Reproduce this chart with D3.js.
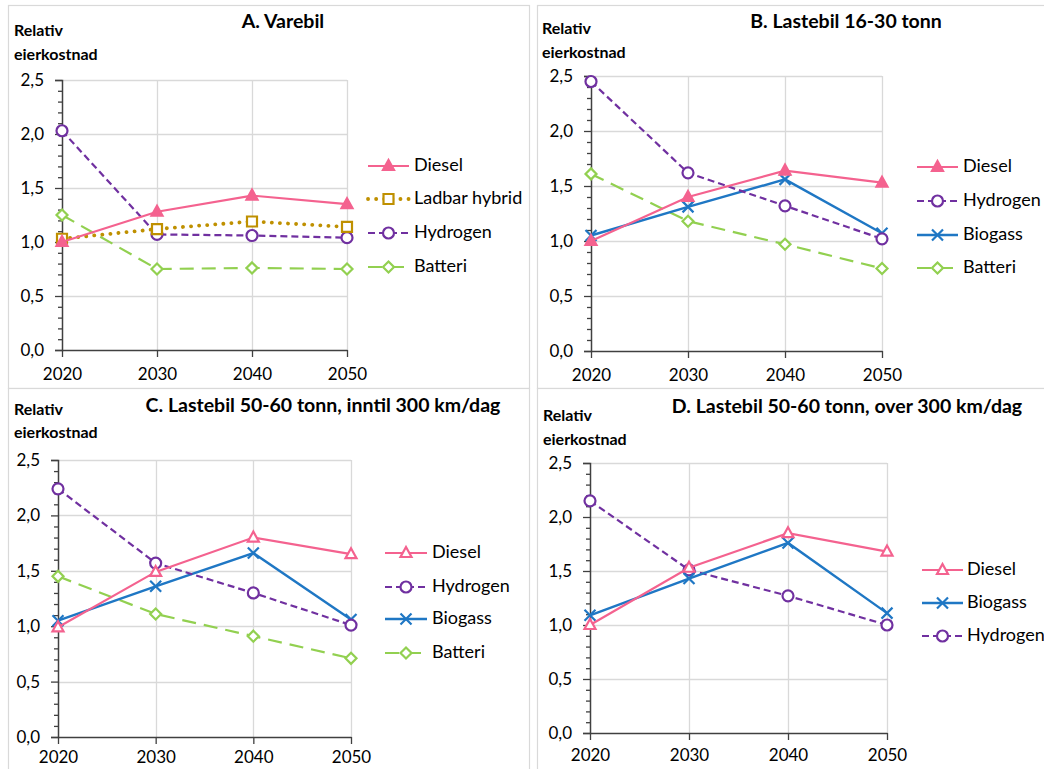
<!DOCTYPE html>
<html>
<head>
<meta charset="utf-8">
<script src="https://cdn.jsdelivr.net/npm/d3@7"></script>
<style>
  body { margin:0; background:#fff; }
  svg text { font-family: Lato, "Open Sans", sans-serif; fill:#000; }
</style>
</head>
<body>
<svg id="chart"></svg>
<script>
var w=1044;
var h=769;

// data
var years=[2020, 2030, 2040, 2050];
var yTicks=[0, 0.5, 1.0, 1.5, 2.0, 2.5];
var yMinor=[0.1,0.2,0.3,0.4,0.6,0.7,0.8,0.9,1.1,1.2,1.3,1.4,1.6,1.7,1.8,1.9,2.1,2.2,2.3,2.4];
var titles=["A. Varebil", "B. Lastebil 16-30 tonn",
            "C. Lastebil 50-60 tonn, inntil 300 km/dag",
            "D. Lastebil 50-60 tonn, over 300 km/dag"];
var axisTitle=["Relativ", "eierkostnad"];

var namesA=["Diesel", "Ladbar hybrid", "Hydrogen", "Batteri"];
var dieselA=[1.00, 1.28, 1.43, 1.35];
var hybridA=[1.03, 1.12, 1.19, 1.14];
var hydrogenA=[2.03, 1.07, 1.06, 1.04];
var batteriA=[1.25, 0.75, 0.76, 0.75];

var namesB=["Diesel", "Hydrogen", "Biogass", "Batteri"];
var dieselB=[1.00, 1.40, 1.64, 1.53];
var hydrogenB=[2.45, 1.62, 1.32, 1.02];
var biogassB=[1.05, 1.31, 1.56, 1.07];
var batteriB=[1.61, 1.18, 0.97, 0.75];

var namesC=["Diesel", "Hydrogen", "Biogass", "Batteri"];
var dieselC=[0.99, 1.49, 1.80, 1.65];
var hydrogenC=[2.24, 1.57, 1.30, 1.01];
var biogassC=[1.05, 1.36, 1.66, 1.06];
var batteriC=[1.45, 1.11, 0.91, 0.71];

var namesD=["Diesel", "Biogass", "Hydrogen"];
var dieselD=[1.00, 1.53, 1.85, 1.68];
var biogassD=[1.09, 1.43, 1.76, 1.11];
var hydrogenD=[2.15, 1.51, 1.27, 1.00];

// look of each series
var look={
  "Diesel":        {color:"#F4628F", dash:null,     marker:"tri",  width:2.2},
  "Ladbar hybrid": {color:"#BF9000", dash:"0.1,8",  marker:"sq",   width:3.8, cap:"round"},
  "Hydrogen":      {color:"#7030A0", dash:"7,4",    marker:"circ", width:2.2},
  "Biogass":       {color:"#1F77C4", dash:null,     marker:"x",    width:2.4},
  "Batteri":       {color:"#92D050", dash:"14,8",   marker:"dia",  width:2.2}
};

// where each panel goes on the page
var panels=[
  {title:0, names:namesA, values:[dieselA, hybridA, hydrogenA, batteriA], dieselFill:true,
   box:[8,5,521,383], x0:62, x1:347, yTop:80, yBot:350, xPad:11,
   tx:283, ty:23, ax:14, ay:[32,56], lx0:368, lx1:409, ltx:414, ly:[166,199,233,267]},
  {title:1, names:namesB, values:[dieselB, hydrogenB, biogassB, batteriB], dieselFill:true,
   box:[537,5,520,383], x0:591, x1:882, yTop:76, yBot:351, xPad:11,
   tx:846, ty:23, ax:542, ay:[30,54], lx0:917, lx1:958, ltx:963, ly:[167,201,235,268]},
  {title:2, names:namesC, values:[dieselC, hydrogenC, biogassC, batteriC], dieselFill:false,
   box:[8,388,521,400], x0:58, x1:351, yTop:460, yBot:737, xPad:7,
   tx:323, ty:407, ax:14, ay:[411,434], lx0:385, lx1:427, ltx:432, ly:[553,587,619,653]},
  {title:3, names:namesD, values:[dieselD, biogassD, hydrogenD], dieselFill:false,
   box:[537,388,520,400], x0:590, x1:887, yTop:463, yBot:733, xPad:9,
   tx:847, ty:408, ax:543, ay:[417,441], lx0:922, lx1:963, ltx:967, ly:[570,603,636]}
];

function comma(v){
  return d3.format(".1f")(v).replace(".", ",");
}

function markerPath(kind){
  if(kind=="tri") return "M0,-6L5.5,4L-5.5,4Z";
  if(kind=="sq") return "M-5,-5H5V5H-5Z";
  if(kind=="dia") return "M0,-5.5L5.5,0L0,5.5L-5.5,0Z";
  if(kind=="x") return "M-5.5,-5.5L5.5,5.5M5.5,-5.5L-5.5,5.5";
  return null;
}

function addMarker(g, name, x, y, filled){
  var lk=look[name];
  if(lk.marker=="circ"){
    g.append("circle").attr("cx",x).attr("cy",y).attr("r",5.5)
      .attr("fill","#fff").attr("stroke",lk.color).attr("stroke-width",2.2);
    return;
  }
  g.append("path").attr("d",markerPath(lk.marker))
    .attr("transform","translate("+x+","+y+")")
    .attr("fill", filled ? lk.color : (lk.marker=="x" ? "none" : "#fff"))
    .attr("stroke",lk.color).attr("stroke-width",2.2);
}

function drawPanel(svg, p){
  var g=svg.append("g");

  g.append("rect").attr("x",p.box[0]+0.5).attr("y",p.box[1]+0.5)
    .attr("width",p.box[2]).attr("height",p.box[3])
    .attr("fill","#fff").attr("stroke","#d9d9d9").attr("stroke-width",1.2);

  var x=d3.scalePoint().domain(years).range([p.x0, p.x1]);
  var y=d3.scaleLinear().domain([0, 2.5]).range([p.yBot, p.yTop]);

  // grid
  g.append("g").selectAll("line").data(yTicks.slice(1)).enter().append("line")
    .attr("x1",p.x0).attr("x2",p.x1)
    .attr("y1",function(d){return Math.round(y(d))+0.5;})
    .attr("y2",function(d){return Math.round(y(d))+0.5;})
    .attr("stroke","#d9d9d9").attr("stroke-width",1.3);
  g.append("g").selectAll("line").data(years.slice(1)).enter().append("line")
    .attr("x1",function(d){return Math.round(x(d))+0.5;})
    .attr("x2",function(d){return Math.round(x(d))+0.5;})
    .attr("y1",p.yTop).attr("y2",p.yBot)
    .attr("stroke","#d9d9d9").attr("stroke-width",1.3);

  // axes
  var ya=g.append("g").attr("transform","translate("+p.x0+",0)")
    .call(d3.axisLeft(y).tickValues(yTicks).tickSize(7).tickPadding(11).tickFormat(comma));
  g.append("g").attr("transform","translate("+p.x0+",0)")
    .call(d3.axisLeft(y).tickValues(yMinor).tickSize(4).tickFormat(""))
    .select(".domain").remove();
  var xa=g.append("g").attr("transform","translate(0,"+p.yBot+")")
    .call(d3.axisBottom(x).tickSize(7).tickPadding(p.xPad).tickSizeOuter(0));

  g.selectAll(".tick line").attr("stroke","#404040").attr("stroke-width",1.3);
  g.selectAll(".domain").attr("stroke","#404040").attr("stroke-width",1.5);
  ya.selectAll("text").attr("font-size","17px").attr("font-family","Lato").attr("fill","#000");
  xa.selectAll("text").attr("font-size","17px").attr("font-family","Lato").attr("fill","#000");

  // titles
  g.append("text").text(titles[p.title]).attr("x",p.tx).attr("y",p.ty)
    .attr("text-anchor","middle").attr("dominant-baseline","middle")
    .attr("font-size","19.5px").attr("font-weight","bold");
  g.selectAll("text.at").data(axisTitle).enter().append("text").attr("class","at")
    .text(function(d){return d;})
    .attr("x",p.ax).attr("y",function(d,i){return p.ay[i];})
    .attr("dominant-baseline","middle")
    .attr("font-size","16px").attr("font-weight","bold");

  // series, drawn last one first so the first sits on top
  var line=d3.line().x(function(d,i){return x(years[i]);}).y(function(d){return y(d);});
  for(var k=p.names.length-1;k>=0;k--){
    var name=p.names[k], lk=look[name], vals=p.values[k];
    var sg=g.append("g");
    sg.append("path").datum(vals).attr("d",line)
      .attr("fill","none").attr("stroke",lk.color).attr("stroke-width",lk.width)
      .attr("stroke-dasharray",lk.dash).attr("stroke-linecap",lk.cap || "butt");
    vals.forEach(function(v,i){
      addMarker(sg, name, x(years[i]), y(v), name=="Diesel" && p.dieselFill);
    });
  }

  // legend
  p.names.forEach(function(name,i){
    var lk=look[name], ly=p.ly[i];
    var lg=g.append("g");
    lg.append("line").attr("x1",p.lx0).attr("x2",p.lx1).attr("y1",ly).attr("y2",ly)
      .attr("stroke",lk.color).attr("stroke-width",lk.width)
      .attr("stroke-dasharray",lk.dash).attr("stroke-linecap",lk.cap || "butt");
    addMarker(lg, name, (p.lx0+p.lx1)/2, ly, name=="Diesel" && p.dieselFill);
    lg.append("text").text(name).attr("x",p.ltx).attr("y",ly)
      .attr("dominant-baseline","middle").attr("font-size","18px");
  });
}

function draw(){
  var svg=d3.select("#chart").attr("width",w).attr("height",h);
  svg.append("rect").attr("width",w).attr("height",h).attr("fill","#fff");
  panels.forEach(function(p){ drawPanel(svg, p); });
}

draw();
</script>
</body>
</html>
